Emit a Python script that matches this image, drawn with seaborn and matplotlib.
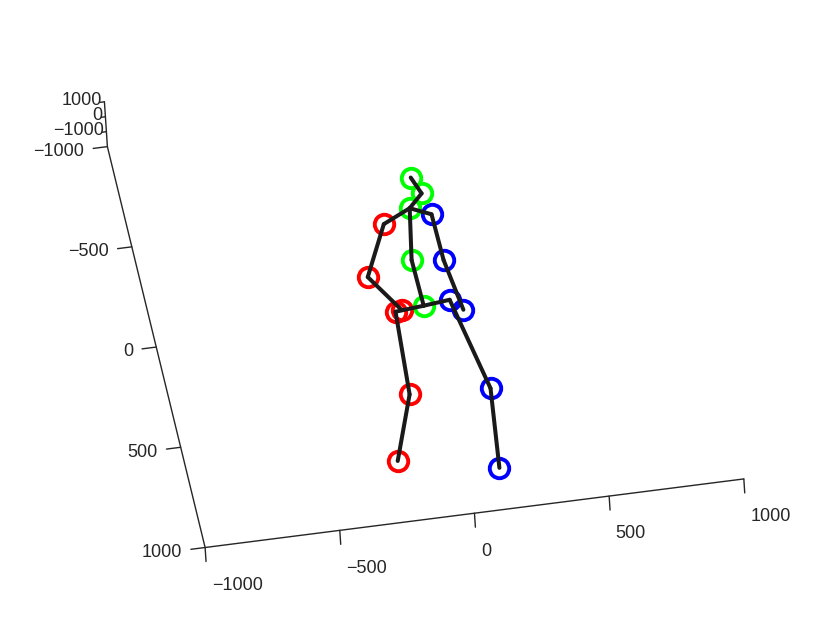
import numpy as np
import matplotlib
matplotlib.use("Agg")
import matplotlib.pyplot as plt
import seaborn as sns

# 17 joint skeleton (h36m order)
joint_x = [-15, -122, -143, -246, 84, 153, 114, -18, 21, 78, 52, 94, 97, 126, -86, -190, -96]
joint_v = [74, 88, 490, 818, 59, 516, 915, -158, -413, -486, -564, -368, -137, 106, -353, -109, 63]
joint_d = [-500, -470, -560, -380, -530, -485, -365, -545, -590, -710, -635, -560, -530, -665, -605, -635, -740]

bones = [(0, 1), (1, 2), (2, 3), (0, 4), (4, 5), (5, 6), (0, 7), (7, 8), (8, 9),
         (9, 10), (8, 11), (11, 12), (12, 13), (8, 14), (14, 15), (15, 16)]
side = ['c', 'r', 'r', 'r', 'l', 'l', 'l', 'c', 'c', 'c', 'c', 'l', 'l', 'l', 'r', 'r', 'r']

ticks_x = [-1000, -500, 0, 500, 1000]
ticks_v = [-1000, -500, 0, 500, 1000]
ticks_d = [-1000, 0, 1000]

sns.set_style("white")
plt.rcParams['font.family'] = ['Liberation Sans', 'DejaVu Sans']
plt.rcParams['font.size'] = 13

pal = {'r': (1, 0, 0), 'l': (0, 0, 1), 'c': (0, 1, 0)}

fig = plt.figure(figsize=(8.22, 6.17), dpi=100)
ax = fig.add_axes([0.1411, 0.0300, 0.73, 0.9725], projection='3d', computed_zorder=False)
ax.set_proj_type('ortho')

x = np.array(joint_x)
v = np.array(joint_v)
d = np.array(joint_d)

for s in ['r', 'l', 'c']:
    idx = [i for i, k in enumerate(side) if k == s]
    ax.plot(x[idx], d[idx], v[idx], 'o', ms=14, mfc='none', mec=pal[s], mew=2.8, zorder=2)

for a, b in bones:
    ax.plot([x[a], x[b]], [d[a], d[b]], [v[a], v[b]], color='#1a1a1a', lw=2.9, zorder=3)

ax.set_xlim(-1000, 1000)
ax.set_ylim(-2000, 1000)
ax.set_zlim(1000, -1000)
ax.set_xticks(ticks_x)
ax.set_yticks(ticks_d)
ax.set_zticks(ticks_v)
ax.set_box_aspect((1, 0.102, 1.273), zoom=1.43)
ax.view_init(elev=53.5, azim=-82.0, roll=13.7)
ax.grid(False)
ax.zaxis.set_ticks_position('lower')
ax.yaxis.set_ticks_position('lower')
# z ticks should point along x (to the left), like the x ticks point down
ax.zaxis._get_tickdir = lambda position: 0

tick_in = {'x': 3.9, 'y': 0.0, 'z': 0.0}
tick_out = {'x': 0.0, 'y': 0.1, 'z': 0.33}
for name, axis in zip('xyz', [ax.xaxis, ax.yaxis, ax.zaxis]):
    axis.set_pane_color((1, 1, 1, 0))
    axis.pane.set_edgecolor((1, 1, 1, 0))
    axis.line.set_color('#262626')
    axis.line.set_linewidth(1.0)
    axis._axinfo['tick']['inward_factor'] = tick_in[name]
    axis._axinfo['tick']['outward_factor'] = tick_out[name]
    axis._axinfo['tick']['linewidth'] = {True: 1.0, False: 1.0}
    axis._axinfo['tick']['color'] = '#262626'
ax.tick_params(colors='#262626', labelsize=13)
ax.tick_params(axis='x', pad=6.8)
ax.tick_params(axis='z', pad=1.7)
ax.tick_params(axis='y', pad=-7)
for lab in ax.get_xticklabels():
    lab.set_ha('left')
for lab in ax.get_yticklabels():
    lab.set_ha('right')
    lab.set_va('center')
for lab in ax.get_zticklabels():
    lab.set_ha('right')
    lab.set_va('center')

fig.savefig('out.png', dpi=100)
